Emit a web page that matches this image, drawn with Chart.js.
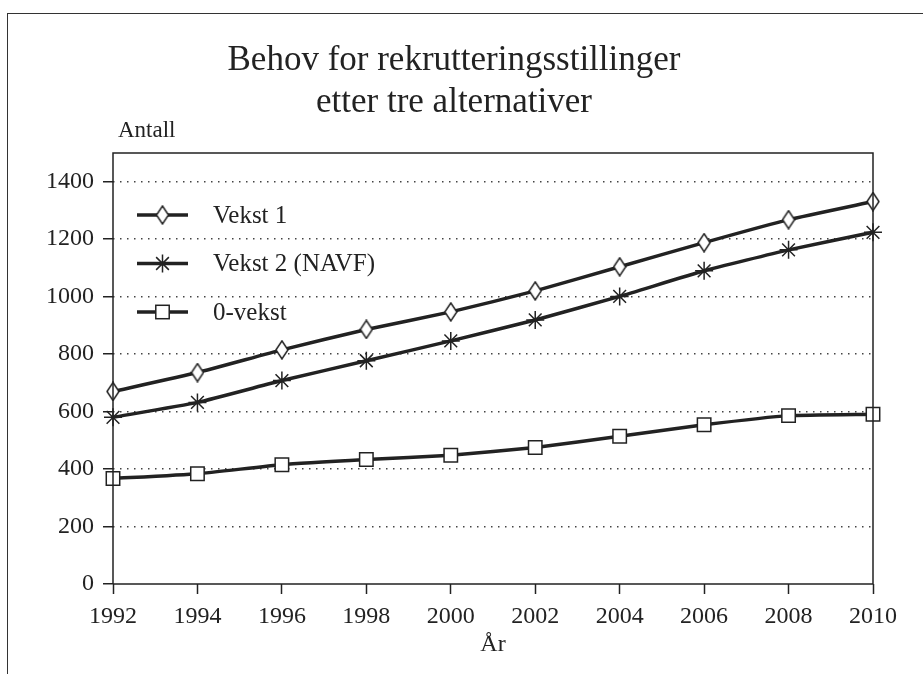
<!DOCTYPE html>
<html>
<head>
<meta charset="utf-8">
<script src="https://cdn.jsdelivr.net/npm/chart.js@4/dist/chart.umd.min.js"></script>
<style>
  html, body { margin: 0; padding: 0; background: #fff; }
  #wrap { position: relative; width: 923px; height: 674px; }
  #frame { position: absolute; left: 7px; top: 13px; width: 930px; height: 680px;
           border-left: 1.5px solid #333; border-top: 1.5px solid #333; }
  canvas { position: absolute; left: 0; top: 0; }
</style>
</head>
<body>
<div id="wrap">
  <div id="frame"></div>
  <canvas id="c" width="923" height="674"></canvas>
</div>
<script>
// ---- data ----
const years = ['1992', '1994', '1996', '1998', '2000', '2002', '2004', '2006', '2008', '2010'];
const vekst1 = [670, 736, 815, 886, 947, 1020, 1104, 1188, 1268, 1331];
const vekst2 = [580, 632, 708, 777, 846, 919, 1001, 1090, 1163, 1224];
const nullvekst = [367, 384, 415, 433, 448, 475, 514, 554, 586, 591];
const seriesNames = ['Vekst 1', 'Vekst 2 (NAVF)', '0-vekst'];
const titleLines = ['Behov for rekrutteringsstillinger', 'etter tre alternativer'];
const yUnitLabel = 'Antall';
const xAxisLabel = 'År';
const yTickValues = [0, 200, 400, 600, 800, 1000, 1200, 1400];

// ---- styles ----
const INK = '#222222';
const SERIF = '"Liberation Serif", "Times New Roman", serif';

function diamondCanvas() {
  const w = 14, h = 20;
  const cv = document.createElement('canvas');
  cv.width = w; cv.height = h;
  const g = cv.getContext('2d');
  g.beginPath();
  g.moveTo(w / 2, 1); g.lineTo(w - 1, h / 2); g.lineTo(w / 2, h - 1); g.lineTo(1, h / 2); g.closePath();
  g.fillStyle = '#fff'; g.fill();
  g.lineWidth = 1.5; g.strokeStyle = INK; g.stroke();
  return cv;
}
const diamond = diamondCanvas();

const markerStyles = [
  { pointStyle: diamond, pointRadius: 8 },
  { pointStyle: 'star', pointRadius: 9, pointBorderWidth: 1.5 },
  { pointStyle: 'rect', pointRadius: 9.5, pointBorderWidth: 1.5 }
];
const seriesValues = [vekst1, vekst2, nullvekst];

const datasets = seriesValues.map((vals, i) => Object.assign({
  label: seriesNames[i],
  data: vals,
  borderColor: INK,
  backgroundColor: '#fff',
  pointBackgroundColor: '#fff',
  pointBorderColor: INK,
  borderWidth: 3.5,
  tension: 0.15,
  fill: false
}, markerStyles[i]));

// ---- plugins ----
const extras = {
  id: 'extras',
  afterDraw(chart) {
    const { ctx, chartArea } = chart;
    ctx.save();
    ctx.setLineDash([]);
    // plot box border (left, top, right, bottom)
    ctx.strokeStyle = INK; ctx.lineWidth = 1.5;
    ctx.beginPath();
    ctx.moveTo(chartArea.left, chartArea.bottom);
    ctx.lineTo(chartArea.left, chartArea.top);
    ctx.lineTo(chartArea.right, chartArea.top);
    ctx.lineTo(chartArea.right, chartArea.bottom);
    ctx.lineTo(chartArea.left, chartArea.bottom);
    ctx.stroke();
    // unit label
    ctx.fillStyle = INK;
    ctx.font = '23px ' + SERIF;
    ctx.textAlign = 'left'; ctx.textBaseline = 'middle';
    ctx.fillText(yUnitLabel, chartArea.left + 5, chartArea.top - 22);
    // legend
    chart.data.datasets.forEach((ds, i) => {
      const y = chartArea.top + 62 + i * 48.5;
      const x0 = chartArea.left + 24, x1 = chartArea.left + 75, xm = (x0 + x1) / 2;
      ctx.strokeStyle = INK; ctx.lineWidth = 3.5;
      ctx.beginPath(); ctx.moveTo(x0, y); ctx.lineTo(x1, y); ctx.stroke();
      drawMarker(ctx, ds, xm, y);
      ctx.fillStyle = INK;
      ctx.font = '25px ' + SERIF;
      ctx.textAlign = 'left'; ctx.textBaseline = 'middle';
      ctx.fillText(ds.label, chartArea.left + 100, y + 1);
    });
    ctx.restore();
  }
};

function drawMarker(ctx, ds, x, y) {
  const st = ds.pointStyle;
  ctx.save();
  ctx.lineWidth = 1.5; ctx.strokeStyle = INK; ctx.fillStyle = '#fff';
  if (st instanceof HTMLCanvasElement) {
    ctx.drawImage(st, x - st.width / 2, y - st.height / 2);
  } else if (st === 'star') {
    const r = ds.pointRadius;
    ctx.beginPath();
    for (let k = 0; k < 4; k++) {
      const a = k * Math.PI / 4;
      ctx.moveTo(x + Math.cos(a) * r, y + Math.sin(a) * r);
      ctx.lineTo(x - Math.cos(a) * r, y - Math.sin(a) * r);
    }
    ctx.stroke();
  } else if (st === 'rect') {
    const s = ds.pointRadius / Math.SQRT2;
    ctx.fillRect(x - s, y - s, 2 * s, 2 * s);
    ctx.strokeRect(x - s, y - s, 2 * s, 2 * s);
  }
  ctx.restore();
}

new Chart(document.getElementById('c'), {
  type: 'line',
  data: { labels: years, datasets },
  options: {
    responsive: false,
    animation: false,
    devicePixelRatio: 1,
    layout: { padding: { left: 35, right: 50, top: 0, bottom: 0 } },
    plugins: {
      legend: { display: false },
      tooltip: { enabled: false },
      title: {
        display: true,
        text: titleLines,
        color: INK,
        font: { family: SERIF, size: 35, weight: 'normal', lineHeight: 1.2 },
        padding: { top: 40, bottom: 29 }
      }
    },
    scales: {
      x: {
        type: 'category',
        offset: false,
        border: { display: false },
        grid: { drawOnChartArea: false, color: INK, tickColor: INK, tickLength: 10, tickWidth: 1.5 },
        ticks: { color: INK, font: { family: SERIF, size: 24 }, padding: 8, maxRotation: 0, autoSkip: false },
        title: { display: true, text: xAxisLabel, color: INK, font: { family: SERIF, size: 24 }, padding: { top: 0, bottom: 15 } },
        afterFit(scale) { scale.height = 90; }
      },
      y: {
        min: 0,
        max: 1500,
        afterBuildTicks(scale) { scale.ticks = yTickValues.map(v => ({ value: v })); },
        border: { display: false, dash: [1.5, 5.5] },
        grid: {
          drawOnChartArea: true,
          color: ctx => (ctx.tick && ctx.tick.value === 0) ? 'rgba(0,0,0,0)' : '#444',
          lineWidth: 1.5,
          tickColor: INK,
          tickWidth: 1.5,
          tickLength: 10,
          tickBorderDash: []
        },
        ticks: { color: INK, font: { family: SERIF, size: 24 }, padding: 9, callback: v => String(v) },
        afterFit(scale) { scale.width = 78; }
      }
    }
  },
  plugins: [extras]
});
</script>
</body>
</html>
